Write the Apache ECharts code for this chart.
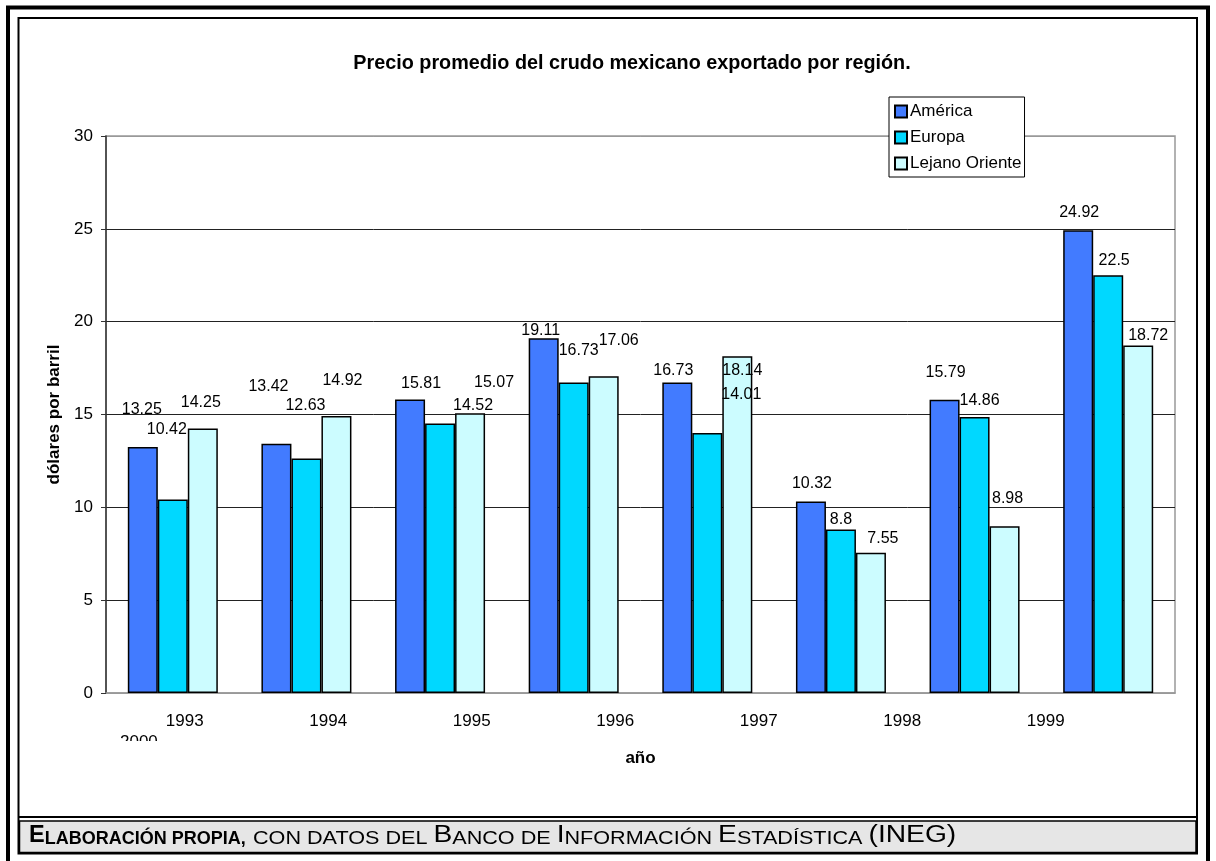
<!DOCTYPE html>
<html>
<head>
<meta charset="utf-8">
<script src="https://cdn.jsdelivr.net/npm/echarts@6/dist/echarts.min.js"></script>
<style>
  html, body { margin: 0; padding: 0; background: #fff; }
  #chart { width: 1216px; height: 861px; }
</style>
</head>
<body>
<div id="chart"></div>
<script>
// data
var years = ['1993', '1994', '1995', '1996', '1997', '1998', '1999', '2000'];
var america = [13.25, 13.42, 15.81, 19.11, 16.73, 10.32, 15.79, 24.92];
var europa = [10.42, 12.63, 14.52, 16.73, 14.01, 8.8, 14.86, 22.5];
var lejanoOriente = [14.25, 14.92, 15.07, 17.06, 18.14, 7.55, 8.98, 18.72];

// the labels in the original sit a bit off, these nudge them back in place
var nudgeAmerica = [[-1, -24], [-8, -44], [11, -3], [-3, 5], [-4, 1], [1, -5], [1, -14], [1, -5]];
var nudgeEuropa = [[-6, -57], [-1, -40], [33, -5], [5, -19], [34, -25], [0, 3], [5, -4], [6, -2]];
var nudgeLejano = [[-2, -13], [6, -22], [24, -18], [15, -23], [5, 27], [12, -1], [3, -15], [10, 3]];

var FONT = 'Liberation Sans';

var chartDom = document.getElementById('chart');
var myChart = echarts.init(chartDom);
var option;

makeBar = (name, values, nudge, color) => {
    return {
        name: name,
        type: 'bar',
        xAxisIndex: 0,
        yAxisIndex: 0,
        barWidth: 30,
        barGap: '0%',
        itemStyle: { color: color, borderColor: '#000', borderWidth: 1.5 },
        label: {
            show: true,
            position: 'top',
            distance: 5,
            fontFamily: FONT,
            fontSize: 16,
            color: '#000'
        },
        data: values.map((v, i) => ({ value: v, label: { offset: nudge[i] } }))
    };
};

option = {
    animation: false,
    backgroundColor: '#fff',
    textStyle: { fontFamily: FONT },
    title: {
        text: 'Precio promedio del crudo mexicano exportado por región.',
        left: 627,
        textAlign: 'center',
        top: 49,
        textStyle: { fontFamily: FONT, fontSize: 19.8, fontWeight: 'bold', color: '#000' }
    },
    legend: {
        orient: 'vertical',
        left: 889,
        top: 97,
        padding: [6, 3, 5, 5],
        itemGap: 9,
        itemWidth: 12,
        itemHeight: 12,
        backgroundColor: '#fff',
        borderColor: '#000',
        borderWidth: 1,
        borderRadius: 0,
        icon: 'rect',
        textStyle: { fontFamily: FONT, fontSize: 17, color: '#000', padding: [0, 0, 0, -2] },
        data: ['América', 'Europa', 'Lejano Oriente']
    },
    grid: [
        { left: 106, right: 41, top: 136, bottom: 168, show: true, borderColor: '#999', borderWidth: 1.5, containLabel: false },
        // spare grid only used to lay the year labels where the original has them
        { left: 113, width: 1004.5, top: 136, bottom: 168, containLabel: false }
    ],
    xAxis: [
        {
            type: 'category',
            gridIndex: 0,
            data: years,
            name: 'año',
            nameLocation: 'middle',
            nameGap: 57,
            nameTextStyle: { fontFamily: FONT, fontSize: 17, fontWeight: 'bold', color: '#000' },
            axisLine: { lineStyle: { color: '#999', width: 1.5 } },
            axisTick: { show: false },
            axisLabel: { show: false }
        },
        {
            type: 'category',
            gridIndex: 1,
            data: years.slice(0, 7),
            axisLine: { show: false },
            axisTick: { show: false },
            axisLabel: { fontFamily: FONT, fontSize: 17, color: '#000', margin: 20 }
        }
    ],
    yAxis: [
        {
            type: 'value',
            gridIndex: 0,
            min: 0,
            max: 30,
            interval: 5,
            name: 'dólares por barril',
            nameLocation: 'middle',
            nameGap: 34,
            nameRotate: 90,
            nameTextStyle: { fontFamily: FONT, fontSize: 17, fontWeight: 'bold', color: '#000' },
            axisLine: { show: true, lineStyle: { color: '#333', width: 1.5 } },
            axisTick: { show: true, inside: false, length: 5, lineStyle: { color: '#333' } },
            axisLabel: { fontFamily: FONT, fontSize: 17, color: '#000', margin: 13 },
            splitLine: { show: true, lineStyle: { color: ['#999', '#222', '#222', '#222', '#222', '#222', '#999'], width: 1 } }
        },
        { type: 'value', gridIndex: 1, show: false }
    ],
    series: [
        makeBar('América', america, nudgeAmerica, '#427bff'),
        makeBar('Europa', europa, nudgeEuropa, '#00d8ff'),
        makeBar('Lejano Oriente', lejanoOriente, nudgeLejano, '#ccfcff')
    ],
    graphic: [
        // frame
        { type: 'rect', shape: { x: 8, y: 7.5, width: 1200, height: 860 }, style: { fill: null, stroke: '#000', lineWidth: 4 }, silent: true },
        { type: 'rect', shape: { x: 18.5, y: 18, width: 1178.5, height: 835.5 }, style: { fill: null, stroke: '#000', lineWidth: 2 }, silent: true },
        { type: 'line', shape: { x1: 18.5, y1: 817, x2: 1197, y2: 817 }, style: { stroke: '#000', lineWidth: 2 }, silent: true },
        { type: 'rect', shape: { x: 19.5, y: 821, width: 1176.5, height: 31.5 }, style: { fill: '#e6e6e6', stroke: '#000', lineWidth: 1.5 }, silent: true },
        {
            type: 'text',
            x: 29,
            y: 824,
            silent: true,
            style: {
                text: '{bb|E}{bs|LABORACIÓN PROPIA,}',
                rich: {
                    bb: { fontFamily: FONT, fontSize: 23.5, fontWeight: 'bold', fill: '#000', verticalAlign: 'bottom' },
                    bs: { fontFamily: FONT, fontSize: 18, fontWeight: 'bold', fill: '#000', verticalAlign: 'bottom' }
                }
            }
        },
        // the rest of the source line is spaced out wider in the original
        {
            type: 'text',
            x: 253,
            y: 824,
            scaleX: 1.2,
            silent: true,
            style: {
                text: '{s|CON DATOS DEL }{b|B}{s|ANCO DE }{b|I}{s|NFORMACIÓN }{b|E}{s|STADÍSTICA }{b|(INEG)}',
                rich: {
                    b: { fontFamily: FONT, fontSize: 23.5, fill: '#000', verticalAlign: 'bottom' },
                    s: { fontFamily: FONT, fontSize: 18, fill: '#000', verticalAlign: 'bottom' }
                }
            }
        },
        // the last year label wraps under the axis and is cut off in the original
        {
            type: 'text',
            left: 120,
            top: 734,
            silent: true,
            z: 1,
            style: { text: years[7], fontFamily: FONT, fontSize: 17, fill: '#000' }
        },
        { type: 'rect', shape: { x: 110, y: 741, width: 60, height: 20 }, style: { fill: '#fff' }, silent: true, z: 2 }
    ]
};

option && myChart.setOption(option);
</script>
</body>
</html>
